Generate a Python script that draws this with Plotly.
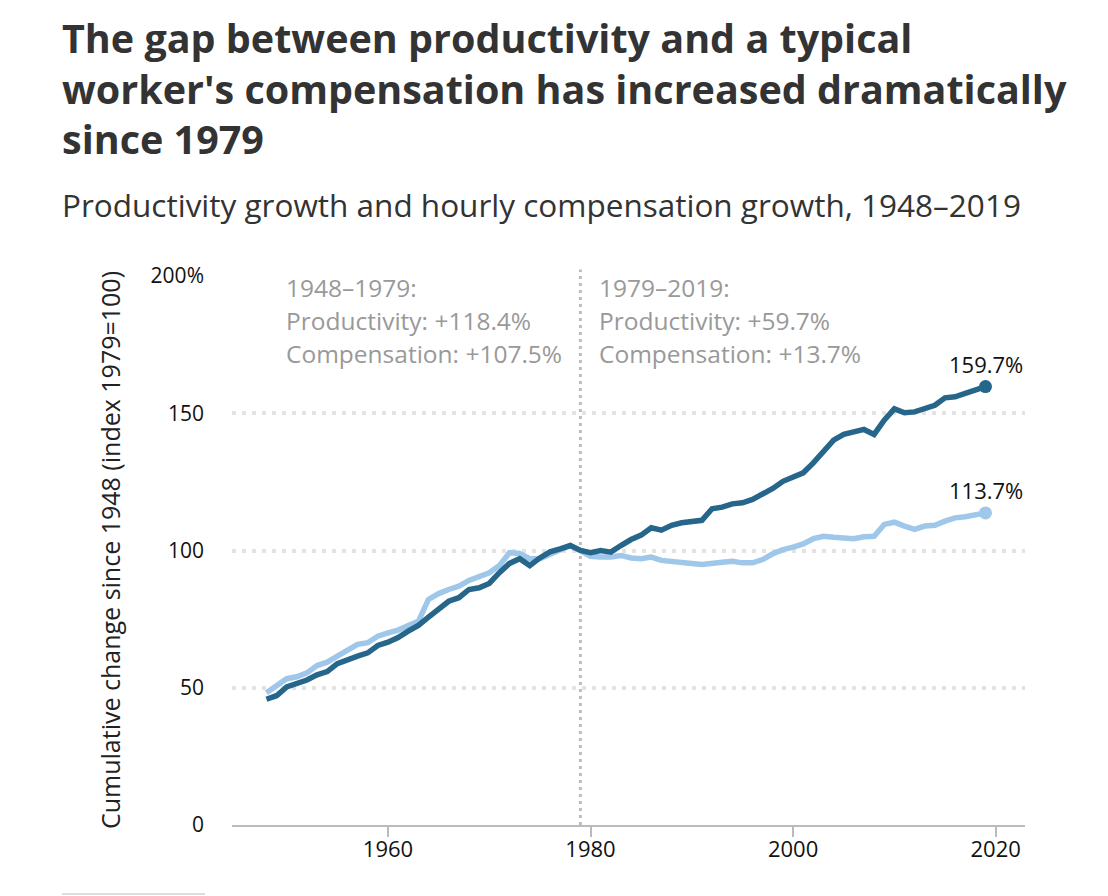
import plotly.graph_objects as go

years = list(range(1948, 2020))

productivity = [
    45.8, 47.1, 50.3, 51.3, 52.8, 54.7, 55.9, 58.8, 60.3, 61.5,
    62.7, 65.4, 66.6, 68.3, 70.6, 72.7, 75.7, 78.3, 81.5, 82.8,
    85.8, 86.4, 88.0, 91.9, 95.3, 97.0, 94.5, 97.3, 99.5, 100.6,
    101.8, 100.0, 99.2, 100.0, 99.4, 101.8, 104.0, 105.6, 108.3, 107.4,
    109.2, 110.1, 110.5, 111.0, 115.2, 115.8, 117.0, 117.4, 118.6, 120.4,
    122.6, 125.2, 126.8, 128.3, 131.9, 136.2, 140.2, 142.3, 143.1, 144.1,
    142.3, 147.5, 151.6, 150.2, 150.5, 151.7, 152.9, 155.6, 156.0, 157.2,
    158.7, 159.7,
]

compensation = [
    48.2, 50.8, 53.3, 54.0, 55.4, 58.1, 59.3, 61.5, 63.9, 65.8,
    66.4, 68.8, 70.0, 71.0, 72.7, 74.2, 82.2, 84.3, 85.8, 87.0,
    89.1, 90.6, 91.9, 94.5, 99.2, 98.9, 97.0, 97.0, 98.5, 100.1,
    101.8, 100.0, 97.9, 97.6, 97.6, 98.2, 97.3, 97.0, 97.6, 96.4,
    96.1, 96.1, 95.3, 94.9, 95.5, 95.7, 96.1, 95.5, 95.5, 96.7,
    98.8, 100.3, 101.2, 102.4, 104.3, 105.2, 104.8, 104.4, 104.3, 105.0,
    105.2, 109.5, 110.3, 108.9, 107.7, 108.9, 109.2, 110.7, 111.9, 112.3,
    113.1, 113.7,
]

y_tick_vals = [0, 50, 100, 150, 200]
y_tick_text = ["0", "50", "100", "150", "200%"]
x_tick_vals = [1960, 1980, 2000, 2020]

title_lines = [
    "The gap between productivity and a typical",
    "worker's compensation has increased dramatically",
    "since 1979",
]
subtitle = "Productivity growth and hourly compensation growth, 1948\u20132019"
y_title = "Cumulative change since 1948 (index 1979=100)"
left_note = ["1948\u20131979:", "Productivity: +118.4%", "Compensation: +107.5%"]
right_note = ["1979\u20132019:", "Productivity: +59.7%", "Compensation: +13.7%"]

DARK = "#25668a"
LIGHT = "#9fc7e9"
FONT = "Open Sans"

W, H = 1108, 896
L, R, T, B = 224, 91, 268, 79
PW, PH = W - L - R, H - T - B


def px(xp):
    # page pixel x -> paper coordinate
    return (xp - 8 - L) / PW


def py(yp):
    # page pixel y -> paper coordinate
    return (H - B - (yp - 8)) / PH


fig = go.Figure()

fig.add_trace(go.Scatter(
    x=years, y=compensation, mode="lines",
    line=dict(color=LIGHT, width=5.5), name="Compensation",
    hoverinfo="skip",
))
fig.add_trace(go.Scatter(
    x=years, y=productivity, mode="lines",
    line=dict(color=DARK, width=5.5), name="Productivity",
    hoverinfo="skip",
))
fig.add_trace(go.Scatter(
    x=[years[-1]], y=[compensation[-1]], mode="markers",
    marker=dict(color=LIGHT, size=13), hoverinfo="skip",
))
fig.add_trace(go.Scatter(
    x=[years[-1]], y=[productivity[-1]], mode="markers",
    marker=dict(color=DARK, size=13), hoverinfo="skip",
))

annotations = []
title_mid = [38, 89, 139]
for line, ym in zip(title_lines, title_mid):
    annotations.append(dict(
        text=f"<b>{line}</b>", xref="paper", yref="paper",
        x=px(60), y=py(ym), xanchor="left", yanchor="middle",
        showarrow=False, font=dict(family=FONT, size=39.5, color="#333333"),
    ))
annotations.append(dict(
    text=subtitle, xref="paper", yref="paper",
    x=px(60), y=py(204), xanchor="left", yanchor="middle",
    showarrow=False, font=dict(family=FONT, size=31.5, color="#333333"),
))
annotations.append(dict(
    text=y_title, xref="paper", yref="paper", textangle=-90,
    x=px(110), y=py(550), xanchor="center", yanchor="middle",
    showarrow=False, font=dict(family=FONT, size=25, color="#222222"),
))

note_mid = [287, 320, 353]
for lines, xl in ((left_note, 284), (right_note, 597)):
    for line, ym in zip(lines, note_mid):
        annotations.append(dict(
            text=line, xref="paper", yref="paper",
            x=px(xl), y=py(ym), xanchor="left", yanchor="middle",
            showarrow=False, font=dict(family=FONT, size=24.5, color="#999999"),
        ))

for val in (productivity[-1], compensation[-1]):
    annotations.append(dict(
        text=f"{val:.1f}%", x=years[-1], y=val, xref="x", yref="y",
        xanchor="center", yanchor="bottom", yshift=6, showarrow=False,
        font=dict(family=FONT, size=22, color="#111111"),
    ))

shapes = [
    dict(type="line", xref="x", yref="paper", x0=1979, x1=1979,
         y0=0, y1=1.012, line=dict(color="#bdbdbd", width=3, dash="3px,4px"),
         layer="below"),
    dict(type="line", xref="paper", yref="paper", x0=px(62), x1=px(205),
         y0=py(894), y1=py(894), line=dict(color="#dddddd", width=2)),
]

fig.update_layout(
    width=W, height=H,
    margin=dict(l=L, r=R, t=T, b=B),
    paper_bgcolor="white", plot_bgcolor="white",
    showlegend=False,
    font=dict(family=FONT, size=22, color="#111111"),
    annotations=annotations,
    shapes=shapes,
    xaxis=dict(
        range=[1944.6, 2022.9], tickvals=x_tick_vals,
        showgrid=False, zeroline=False,
        showline=True, linecolor="#bbbbbb", linewidth=2,
        ticks="outside", ticklen=10, tickwidth=1.5, tickcolor="#bbbbbb",
        ticklabelstandoff=-6,
        tickfont=dict(family=FONT, size=22, color="#111111"),
        fixedrange=True,
    ),
    yaxis=dict(
        range=[0, 200], tickvals=y_tick_vals, ticktext=y_tick_text,
        showgrid=True, gridcolor="#e3e3e3", gridwidth=4, griddash="4px,6px",
        zeroline=False, showline=False,
        ticks="", ticklabelstandoff=27,
        tickfont=dict(family=FONT, size=21, color="#111111"),
        fixedrange=True,
    ),
)

fig.write_html("out.html")
